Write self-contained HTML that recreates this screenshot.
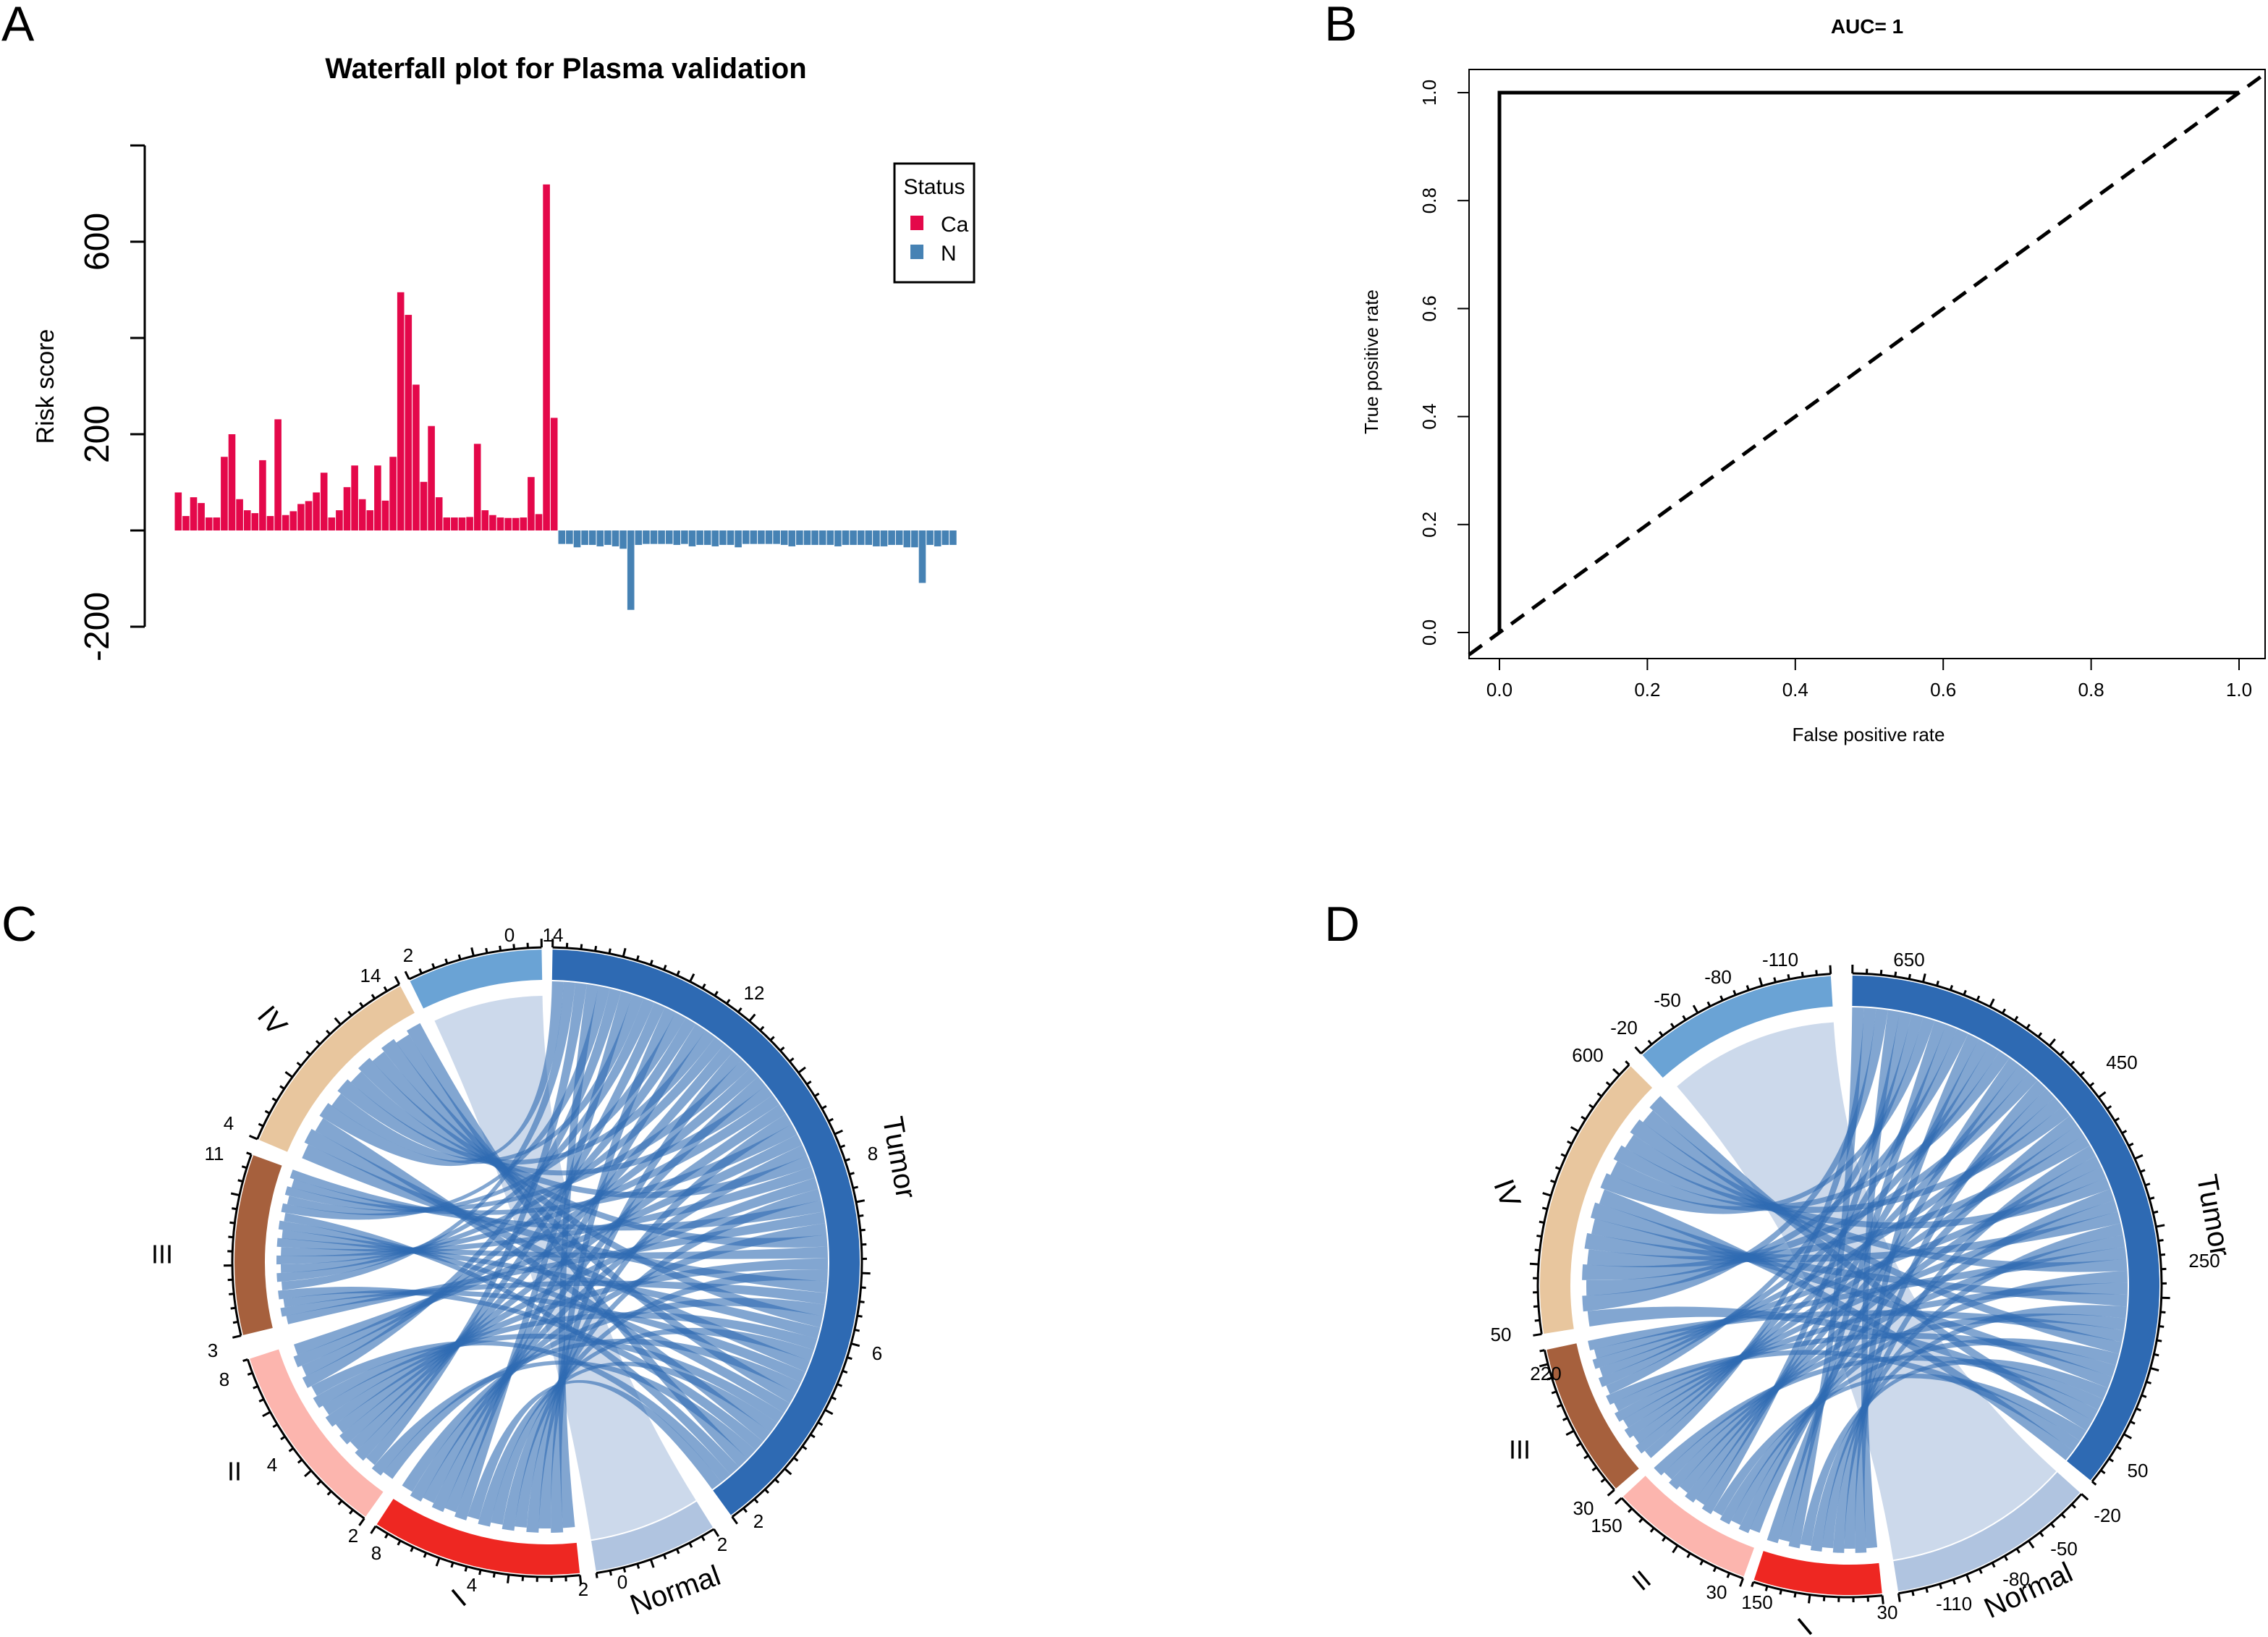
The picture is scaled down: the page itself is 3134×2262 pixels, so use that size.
<!DOCTYPE html>
<html><head><meta charset="utf-8">
<style>
html,body{margin:0;padding:0;background:#fff;}
svg{display:block;font-family:"Liberation Sans",sans-serif;}
</style></head>
<body>
<svg id="fig" width="3134" height="2262" viewBox="0 0 3134 2262" xmlns="http://www.w3.org/2000/svg">
<g id="pA">
  <text x="2" y="56" font-size="68">A</text>
  <text x="782" y="108" font-size="40" font-weight="bold" text-anchor="middle" font-family="'Liberation Sans Narrow','Liberation Sans',sans-serif">Waterfall plot for Plasma validation</text>
  <text transform="translate(74,534) rotate(-90)" font-size="34" text-anchor="middle">Risk score</text>
  <g id="wfAxis"></g>
  <g id="wfBars"></g>
  <g>
    <rect x="1236" y="226" width="110" height="164" fill="#fff" stroke="#000" stroke-width="3"/>
    <text x="1291" y="268" font-size="30" text-anchor="middle" font-family="'Liberation Sans Narrow','Liberation Sans',sans-serif">Status</text>
    <rect x="1258" y="298" width="18" height="20" fill="#e4084a"/>
    <text x="1300" y="320" font-size="30" font-family="'Liberation Sans Narrow','Liberation Sans',sans-serif">Ca</text>
    <rect x="1258" y="338" width="18" height="20" fill="#4682b4"/>
    <text x="1300" y="360" font-size="30" font-family="'Liberation Sans Narrow','Liberation Sans',sans-serif">N</text>
  </g>
</g>
<g id="pB">
  <text x="1830" y="56" font-size="68">B</text>
  <text x="2580" y="46" font-size="28" font-weight="bold" text-anchor="middle">AUC= 1</text>
  <rect x="2030" y="96" width="1100" height="814" fill="none" stroke="#000" stroke-width="2"/>
  <g id="rocAxes"></g>
  <g id="rocLines"></g>
  <text x="2582" y="1024" font-size="26" text-anchor="middle">False positive rate</text>
  <text transform="translate(1904,500) rotate(-90)" font-size="26" text-anchor="middle">True positive rate</text>
</g>
<g id="pC">
  <text x="2" y="1300" font-size="68">C</text>
</g>
<g id="pD">
  <text x="1830" y="1300" font-size="68">D</text>
</g>
</svg>
<script>
const NS="http://www.w3.org/2000/svg";
function mk(tag,attrs,parent){const e=document.createElementNS(NS,tag);for(const k in attrs)e.setAttribute(k,attrs[k]);parent.appendChild(e);return e;}

// ---------- Waterfall data ----------
const caScores=[79,30,69,57,27,27,153,200,65,42,36,146,30,231,32,40,55,61,79,120,27,42,90,135,65,42,135,62,153,495,448,303,101,217,69,27,27,27,28,180,42,32,27,26,26,27,111,34,719,234];
const nScores=[-28,-28,-35,-30,-30,-33,-30,-33,-38,-165,-30,-28,-28,-28,-28,-30,-28,-33,-30,-30,-33,-30,-30,-35,-28,-28,-28,-28,-28,-30,-33,-30,-30,-30,-30,-30,-33,-30,-30,-30,-30,-33,-33,-30,-30,-35,-35,-109,-30,-33,-30,-30];
const wfTicks=[-200,0,200,400,600,800];
const wfTickLabels=["-200","","200","","600",""];
const wfY=v=>733-v*0.665;
const wfX0=241.5, wfPitch=10.6;
const wfX=i=>wfX0+i*wfPitch;

const ax=document.getElementById('wfAxis');
let l=mk('line',{x1:200,x2:200,y1:wfY(800),y2:wfY(-200),stroke:'#000','stroke-width':3},ax);


wfTicks.forEach((t,i)=>{
  const tk=mk('line',{x1:180,x2:200,y1:wfY(t),y2:wfY(t),stroke:'#000','stroke-width':3},ax);
  
  
  if(wfTickLabels[i]){
    const tx=mk('text',{transform:`translate(150,${wfY(t)}) rotate(-90)`,'font-size':48,'text-anchor':'middle'},ax);
    tx.textContent=wfTickLabels[i];
    
    
  }
});
const bars=document.getElementById('wfBars');
const all=caScores.map(v=>({v,c:'#e4084a'})).concat(nScores.map(v=>({v,c:'#4682b4'})));
all.forEach((d,i)=>{
  const y1=wfY(Math.max(d.v,0)),y2=wfY(Math.min(d.v,0));
  const r=mk('rect',{x:wfX(i),y:y1,width:wfPitch-1,height:y2-y1,fill:d.c},bars);
  
  
});

// ---------- ROC ----------
const rocFpr=[0,0,1];
const rocTpr=[0,1,1];
const rocTicks=[0,0.2,0.4,0.6,0.8,1.0];
const rocTickLabels=["0.0","0.2","0.4","0.6","0.8","1.0"];
const rx=v=>2072+v*1022, ry=v=>874-v*746;
const ra=document.getElementById('rocAxes');
rocTicks.forEach((t,i)=>{
  let a=mk('line',{x1:rx(t),x2:rx(t),y1:910,y2:926,stroke:'#000','stroke-width':2},ra);
  
  
  let tx=mk('text',{x:rx(t),y:962,'font-size':26,'text-anchor':'middle'},ra);tx.textContent=rocTickLabels[i];
  
  
  let b=mk('line',{x1:2014,x2:2030,y1:ry(t),y2:ry(t),stroke:'#000','stroke-width':2},ra);
  
  
  let ty=mk('text',{transform:`translate(1984,${ry(t)}) rotate(-90)`,'font-size':26,'text-anchor':'middle'},ra);ty.textContent=rocTickLabels[i];
  
  
});
const rl=document.getElementById('rocLines');
let dg=mk('line',{x1:2030,y1:ry(-42/1022),x2:3130,y2:ry(1058/1022),stroke:'#000','stroke-width':5,'stroke-dasharray':'22,14'},rl);


let rp=mk('polyline',{points:rocFpr.map((f,i)=>rx(f)+','+ry(rocTpr[i])).join(' '),fill:'none',stroke:'#000','stroke-width':5},rl);



// ---------- Chord diagrams ----------
const cSectorNames=["Tumor","Normal","I","II","III","IV","NormalTop"];
const cSectorStart=[1,148,174,215.5,256.5,293,334];
const cSectorEnd=[144,171,213,252,290,332,359];
const cLinkCounts=[15,15,18,12]; // I, II, III, IV links to Tumor
const dSectorStart=[0.5,132,174,200,229,261,318];
const dSectorEnd=[129,171,198,227,258,315,356.5];
const dLinkCounts=[10,12,14,16];
const sectorColors=["#2e6ab3","#b0c4e0","#ee2722","#fcb5ae","#a6603d","#e8c69e","#6aa3d5"];

function drawChord(g,cx,cy,R,S,E,counts,labels){
  const P=(a,r)=>[cx+r*Math.sin(a*Math.PI/180),cy-r*Math.cos(a*Math.PI/180)];
  const band=42, rin=R-band, rT=rin-2, rS=rin-22;
  S.forEach((s,i)=>{
    const e=E[i];const a=P(s,R),b=P(e,R),c=P(e,rin),d=P(s,rin);const lg=(e-s)>180?1:0;
    const p=mk('path',{d:`M${a}A${R},${R} 0 ${lg} 1 ${b}L${c}A${rin},${rin} 0 ${lg} 0 ${d}Z`,fill:sectorColors[i]},g);
    
    
    const n=Math.max(4,Math.round((e-s)/2.6)), st=(e-s)/n;
    for(let k=0;k<=n;k++){
      const t=s+k*st;
      const len=k%5===0?12:7;const p1=P(t,R+3),p2=P(t,R+3+len);
      const tl=mk('line',{x1:p1[0],y1:p1[1],x2:p2[0],y2:p2[1],stroke:'#000','stroke-width':3},g);
      
      
    }
    const arc=mk('path',{d:`M${P(s,R+3)}A${R+3},${R+3} 0 0 1 ${P(e,R+3)}`,fill:'none',stroke:'#000','stroke-width':3},g);
    
    
  });
  const ribbon=(a1,a2,ra_,b1,b2,rb,fill,op,name)=>{
    const A1=P(a1,ra_),A2=P(a2,ra_),B1=P(b1,rb),B2=P(b2,rb);
    const p=mk('path',{d:`M${A1}A${ra_},${ra_} 0 0 1 ${A2}Q${cx},${cy} ${B1}A${rb},${rb} 0 0 1 ${B2}Q${cx},${cy} ${A1}Z`,fill,'fill-opacity':op},g);
    
    
  };
  ribbon(S[6]+1,E[6],rS,S[1],E[1],rT,'#c3d2e8',0.85,'ribbon-normal');
  const total=counts.reduce((a,b)=>a+b,0);
  const tStep=(E[0]-S[0])/total;
  let idx=0;
  counts.forEach((n,si)=>{
    const s=S[2+si],e=E[2+si],st=(e-s)/n;
    for(let j=0;j<n;j++){
      const slot=(idx*7+3)%total;idx++;
      const b1=S[0]+slot*tStep,b2=b1+tStep;
      ribbon(s+j*st,s+(j+1)*st,rS+(j%2)*6,b1,b2,rT,'#2e6ab3',0.6,'ribbon-'+cSectorNames[2+si].toLowerCase()+'-tumor');
    }
  });
  labels.forEach(L=>{
    const t=mk('text',{x:L[1],y:L[2],'font-size':L[3]||26,'text-anchor':'middle','dominant-baseline':'middle'},g);
    if(L[4])t.setAttribute('transform',`rotate(${L[4]},${L[1]},${L[2]})`);
    t.textContent=L[0];
    
    
  });
}
const cLabels=[["0",704,1294],["14",764,1294],["2",564,1322],["14",512,1350],["12",1042,1374],["8",1206,1596],["6",1212,1872],["2",1048,2104],["2",998,2136],["0",860,2188],["2",806,2198],["4",652,2192],["8",520,2148],["2",488,2124],["4",376,2026],["8",310,1908],["3",294,1868],["11",296,1596],["4",316,1554],
 ["Tumor",1240,1600,40,80,"sector-label-tumor"],["Normal",934,2200,40,-20,"sector-label-normal"],["I",636,2210,40,-40,"sector-label-i"],["II",324,2036,36,0,"sector-label-ii"],["III",224,1736,36,0,"sector-label-iii"],["IV",374,1412,40,50,"sector-label-iv"]];
const dLabels=[["-110",2460,1328],["650",2638,1328],["-80",2374,1352],["-50",2304,1384],["-20",2244,1422],["600",2194,1460],["450",2932,1470],["250",3046,1744],["50",2954,2034],["-20",2912,2096],["-50",2852,2142],["-80",2786,2184],["-110",2700,2218],["30",2608,2230],["150",2428,2216],["30",2372,2202],["150",2220,2110],["30",2188,2086],["220",2136,1900],["50",2074,1846],
 ["Tumor",3056,1680,40,80,"sector-label-tumor"],["Normal",2804,2200,40,-25,"sector-label-normal"],["I",2496,2250,40,-40,"sector-label-i"],["II",2270,2186,36,-40,"sector-label-ii"],["III",2100,2006,36,0,"sector-label-iii"],["IV",2080,1650,40,70,"sector-label-iv"]];
drawChord(document.getElementById('pC'),756,1744,432,cSectorStart,cSectorEnd,cLinkCounts,cLabels);
drawChord(document.getElementById('pD'),2556,1776,428,dSectorStart,dSectorEnd,dLinkCounts,dLabels);
</script>
</body></html>
